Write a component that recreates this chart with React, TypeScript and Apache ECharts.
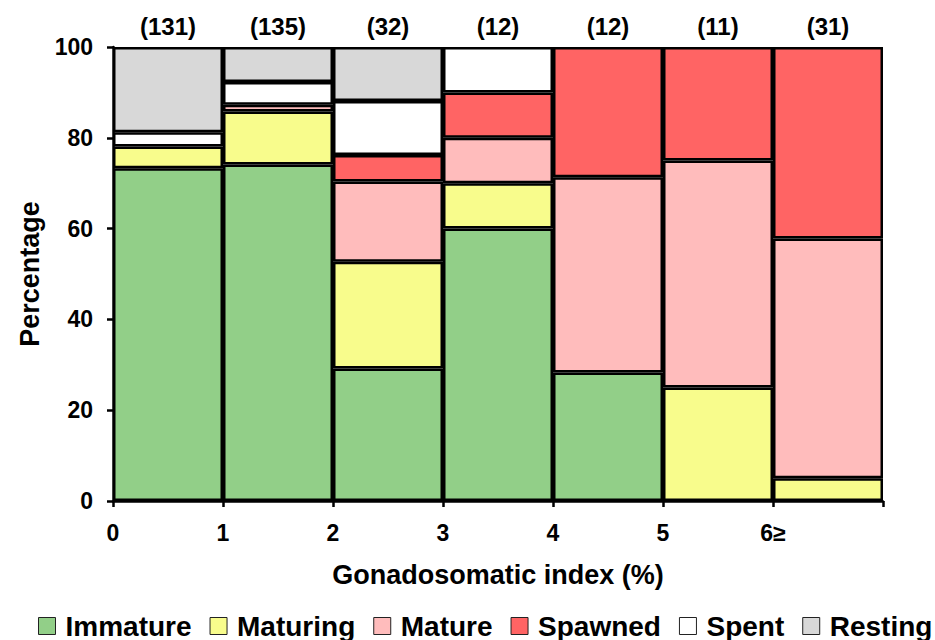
import React, { useEffect, useRef } from "react";
import * as echarts from "echarts";

const bins = ["0-1", "1-2", "2-3", "3-4", "4-5", "5-6", "6+"];
const countLabels = ["(131)", "(135)", "(32)", "(12)", "(12)", "(11)", "(31)"];
const boundaryLabels = ["0", "1", "2", "3", "4", "5", "6≥", ""];
const yTicks = [0, 20, 40, 60, 80, 100];

const immature = [73.3, 74.1, 29.2, 60, 28.3, 0, 0];
const maturing = [4.8, 11.7, 23.5, 10, 0, 25, 5];
const mature = [0, 1.5, 17.7, 10, 43, 50, 52.8];
const spawned = [0, 0, 5.8, 10, 28.7, 25, 42.2];
const spent = [3.1, 5.0, 11.9, 10, 0, 0, 0];
const resting = [18.8, 7.7, 11.9, 0, 0, 0, 0];

const seriesNames = ["Immature", "Maturing", "Mature", "Spawned", "Spent", "Resting"];
const seriesData = [immature, maturing, mature, spawned, spent, resting];
const seriesColors = ["#92CF88", "#F8FC8C", "#FFBCBC", "#FF6464", "#FFFFFF", "#D8D8D8"];

const FONT = "'Liberation Sans', Arial, sans-serif";

export default function App() {
  const ref = useRef<HTMLDivElement>(null);
  useEffect(() => {
    if (!ref.current) return;
    const chart = echarts.init(ref.current, null, { renderer: "svg" });
    const option: any = {
      animation: false,
      backgroundColor: "#ffffff",
      textStyle: { fontFamily: FONT },
      grid: { left: 113, right: 52, top: 47, bottom: 139, containLabel: false },
      legend: {
        data: seriesNames,
        left: 38,
        top: 612,
        width: 897,
        padding: 0,
        icon: "rect",
        itemWidth: 17,
        itemHeight: 17,
        itemGap: 18,
        itemStyle: { borderColor: "#222", borderWidth: 1 },
        textStyle: {
          fontFamily: FONT,
          fontSize: 28,
          fontWeight: "bold",
          color: "#000",
          padding: [0, 0, 0, 5],
        },
      },
      xAxis: [
        {
          type: "category",
          data: bins,
          show: false,
          gridIndex: 0,
        },
        {
          type: "value",
          min: 0,
          max: 7,
          interval: 1,
          position: "bottom",
          gridIndex: 0,
          axisLine: { show: true, lineStyle: { color: "#000", width: 2.5 } },
          axisTick: { show: true, length: 6, lineStyle: { color: "#000", width: 2.5 } },
          splitLine: { show: false },
          axisLabel: {
            margin: 20,
            fontFamily: FONT,
            fontSize: 23,
            fontWeight: "bold",
            color: "#000",
            formatter: (v: number) => boundaryLabels[Math.round(v)] ?? "",
          },
          name: "Gonadosomatic index (%)",
          nameLocation: "middle",
          nameGap: 60,
          nameTextStyle: { fontFamily: FONT, fontSize: 27, fontWeight: "bold", color: "#000" },
        },
        {
          type: "category",
          data: countLabels,
          position: "top",
          gridIndex: 0,
          axisLine: { show: false },
          axisTick: { show: false },
          axisLabel: {
            margin: 9,
            fontFamily: FONT,
            fontSize: 24,
            fontWeight: "bold",
            color: "#000",
          },
        },
      ],
      yAxis: {
        type: "value",
        min: 0,
        max: 100,
        interval: 20,
        axisLine: { show: true, lineStyle: { color: "#000", width: 2.5 } },
        axisTick: { show: true, length: 6, lineStyle: { color: "#000", width: 2.5 } },
        splitLine: { show: false },
        axisLabel: {
          margin: 20,
          fontFamily: FONT,
          fontSize: 23,
          fontWeight: "bold",
          color: "#000",
          formatter: (v: number) => (yTicks.includes(v) ? String(v) : ""),
        },
        name: "Percentage",
        nameLocation: "middle",
        nameGap: 68,
        nameTextStyle: { fontFamily: FONT, fontSize: 27, fontWeight: "bold", color: "#000" },
      },
      series: seriesNames.map((name, i) => ({
        name,
        type: "bar",
        stack: "total",
        xAxisIndex: 0,
        barWidth: "100%",
        barCategoryGap: "0%",
        data: seriesData[i].map((v) => (v === 0 ? null : v)),
        itemStyle: { color: seriesColors[i], borderColor: "#000", borderWidth: 2.5 },
      })),
    };
    chart.setOption(option);
    return () => chart.dispose();
  }, []);
  return (
    <div
      ref={ref}
      style={{ position: "fixed", left: 0, top: 0, width: 935, height: 640 }}
    />
  );
}
